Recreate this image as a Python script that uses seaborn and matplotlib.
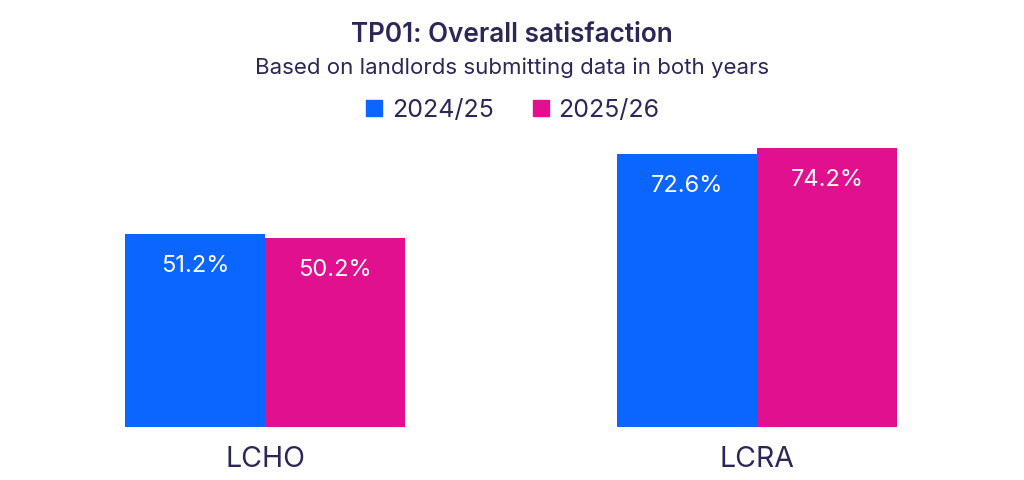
import pandas as pd
import matplotlib
matplotlib.use("Agg")
import matplotlib.pyplot as plt
from matplotlib.lines import Line2D
import seaborn as sns

# data
categories = ["LCHO", "LCRA"]
years = ["2024/25", "2025/26"]
values_2024 = [51.2, 72.6]
values_2025 = [50.2, 74.2]

blue = "#0A66FF"
pink = "#E0108F"
navy = "#2B2758"

df = pd.DataFrame({
    "Landlord": categories * 2,
    "Year": [years[0]] * 2 + [years[1]] * 2,
    "Value": values_2024 + values_2025,
})

sns.set_theme(style="white")
plt.rcParams["font.family"] = ["Inter", "DejaVu Sans"]

fig = plt.figure(figsize=(10.24, 4.8), dpi=100)
ax = fig.add_axes([19 / 1024, 53 / 480, 984 / 1024, 286 / 480])

sns.barplot(data=df, x="Landlord", y="Value", hue="Year",
            palette=[blue, pink], width=0.57, gap=0, saturation=1,
            linewidth=0, legend=False, ax=ax)

for cont in ax.containers:
    ax.bar_label(cont, fmt="%.1f%%", padding=-31, color="white", fontsize=17)

ax.set_xlim(-0.5, 1.5)
ax.set_ylim(0, 76)
ax.set_xlabel("")
ax.set_ylabel("")
ax.set_yticks([])
ax.tick_params(axis="x", length=0, labelsize=20.5, labelcolor=navy, pad=14)
sns.despine(ax=ax, left=True, bottom=True)

fig.text(0.5, 1 - 35 / 480, "TP01: Overall satisfaction", ha="center", va="center",
         fontsize=18.8, fontweight="semibold", color=navy)
fig.text(0.5, 1 - 68 / 480, "Based on landlords submitting data in both years",
         ha="center", va="center", fontsize=16, color=navy)

handles = [Line2D([], [], marker="s", linestyle="", markersize=11, color=c) for c in (blue, pink)]
fig.legend(handles, years, loc="center", bbox_to_anchor=(0.5, 1 - 110 / 480), ncol=2,
           frameon=False, fontsize=18, labelcolor=navy, handletextpad=0.3,
           columnspacing=1.5, handlelength=0.8)

fig.savefig("out.png", dpi=100)
